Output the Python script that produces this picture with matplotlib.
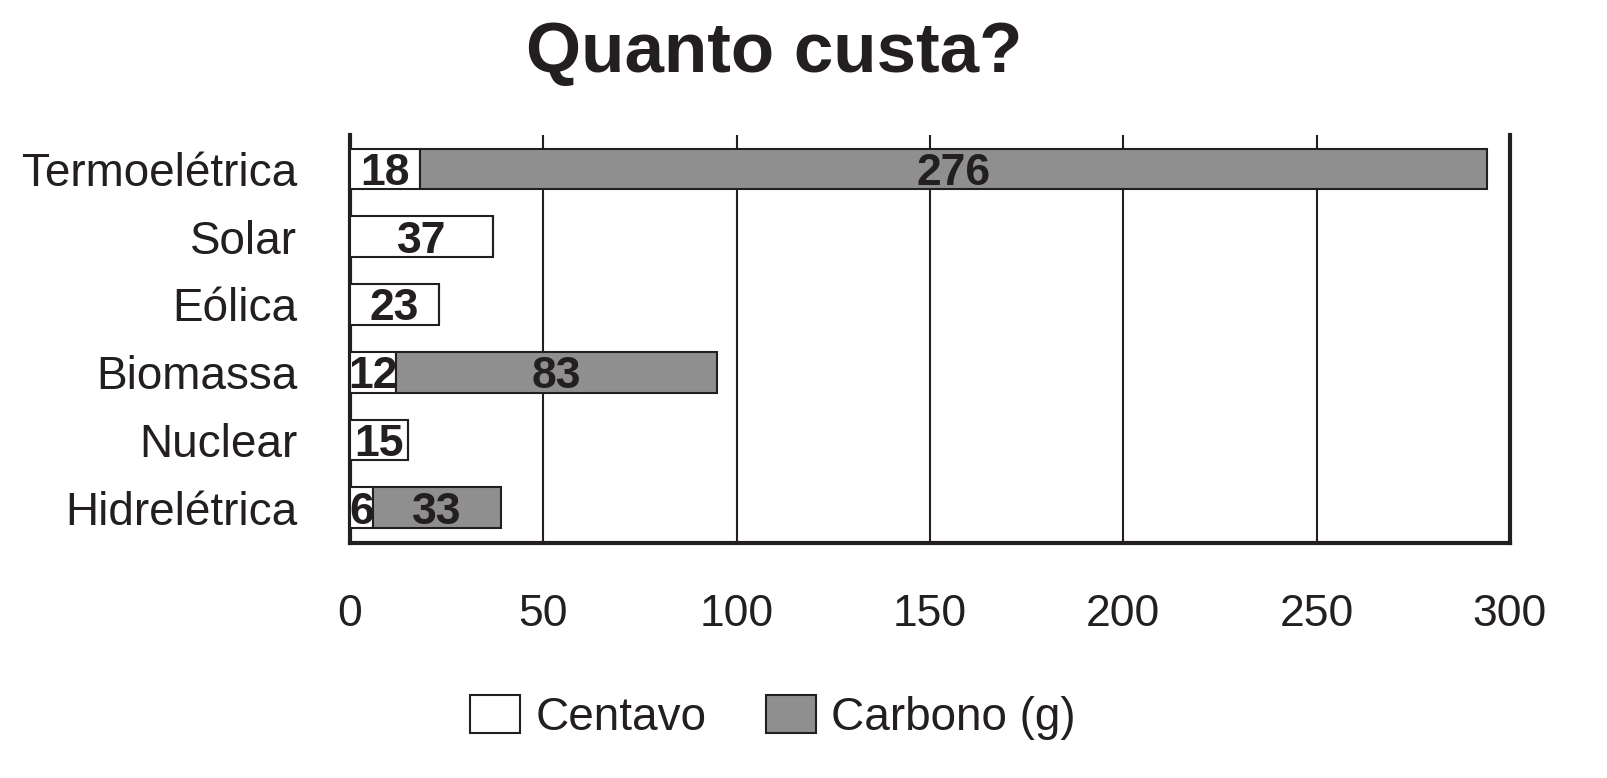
import numpy as np
import matplotlib.pyplot as plt

plt.rcParams['font.family'] = ['Liberation Sans', 'DejaVu Sans']

# dados do grafico
fontes = ['Termoelétrica', 'Solar', 'Eólica', 'Biomassa', 'Nuclear', 'Hidrelétrica']
centavo = [18, 37, 23, 12, 15, 6]
carbono = [276, 0, 0, 83, 0, 33]
xticks = [0, 50, 100, 150, 200, 250, 300]

ink = '#231f20'
cinza = '#8f8f8f'

fig = plt.figure(figsize=(16.07, 7.78), dpi=100)
ax = fig.add_axes([0.2178, 0.302, 0.9396 - 0.2178, 0.8265 - 0.302])

y = np.arange(len(fontes))[::-1]
b1 = ax.barh(y, centavo, height=0.6, color='white', edgecolor=ink, linewidth=1.5,
             label='Centavo', zorder=3)
b2 = ax.barh(y, carbono, left=centavo, height=0.6, color=cinza, edgecolor=ink,
             linewidth=1.5, label='Carbono (g)', zorder=3)

# numeros dentro das barras (centrados pela altura dos algarismos)
for yi, c, g in zip(y, centavo, carbono):
    ax.annotate(str(c), (c / 2, yi), xytext=(0, -11.5), textcoords='offset points',
                ha='center', va='baseline', fontsize=32, fontweight='bold',
                color=ink, zorder=4)
    if g:
        ax.annotate(str(g), (c + g / 2, yi), xytext=(0, -11.5),
                    textcoords='offset points', ha='center', va='baseline',
                    fontsize=32, fontweight='bold', color=ink, zorder=4)

ax.set_xlim(0, 300)
ax.set_ylim(-0.52, 5.5)
ax.set_xticks(xticks)
ax.set_yticks(y)
ax.set_yticklabels(fontes)
ax.tick_params(axis='x', length=0, pad=37, labelsize=32, labelcolor=ink)
ax.tick_params(axis='y', length=0, pad=38, labelsize=33, labelcolor=ink)

ax.grid(axis='x', color=ink, linewidth=1.5)
ax.grid(axis='y', visible=False)
ax.set_axisbelow(True)

ax.spines['top'].set_visible(False)
for s in ['left', 'bottom', 'right']:
    ax.spines[s].set_linewidth(3)
    ax.spines[s].set_color(ink)

fig.text(0.482, 0.93, 'Quanto custa?', ha='center', va='center',
         fontsize=51, fontweight='bold', color=ink)

leg = fig.legend(handles=[b1, b2], loc='center', bbox_to_anchor=(0.481, 0.078),
                 ncol=2, frameon=False, fontsize=33, handlelength=1.09,
                 handleheight=0.92, handletextpad=0.33, columnspacing=1.3)
for t in leg.get_texts():
    t.set_color(ink)

fig.savefig('out.png', dpi=100)
